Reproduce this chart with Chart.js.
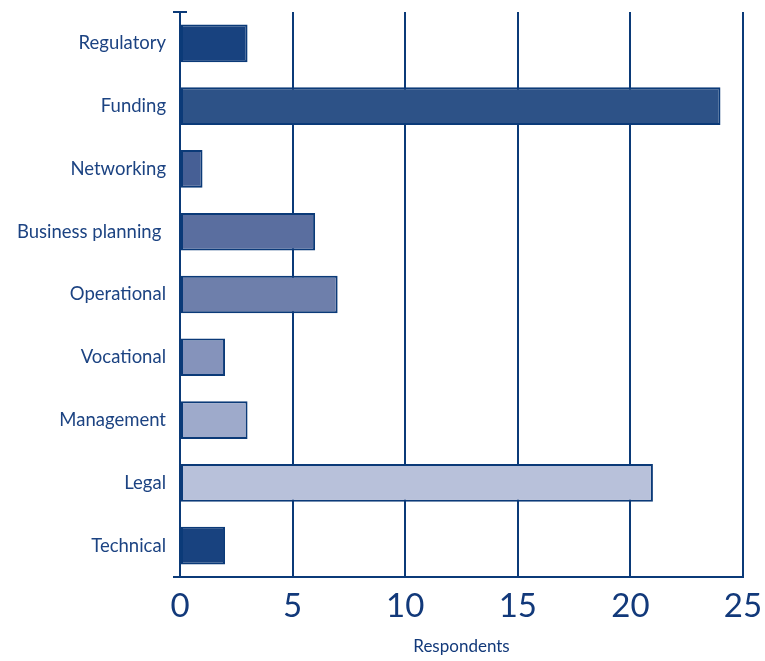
<!DOCTYPE html>
<html>
<head>
<meta charset="utf-8">
<script src="https://cdn.jsdelivr.net/npm/chart.js@4"></script>
<style>
  html, body { margin: 0; padding: 0; background: #fff; }
  #wrap { width: 765px; height: 661px; }
</style>
</head>
<body>
<div id="wrap"><canvas id="bars"></canvas></div>
<script>
const categories = ['Regulatory', 'Funding', 'Networking', 'Business planning ', 'Operational', 'Vocational', 'Management', 'Legal', 'Technical']
const respondents = [3, 24, 1, 6, 7, 2, 3, 21, 2]
const barColors = ['#18427f', '#2d5287', '#465f95', '#5a6e9f', '#6e7fab', '#8593bb', '#9eaacb', '#b8c1da', '#18427f']
const xTicks = [0, 5, 10, 15, 20, 25]

const navy = '#0b3a78'

// little cap on top of the y axis, and axis stub to the left
const axisCaps = {
    id: 'axisCaps',
    afterDraw(chart) {
        let c = chart.ctx
        let a = chart.chartArea
        c.save()
        c.strokeStyle = navy
        c.lineWidth = 2
        c.beginPath()
        c.moveTo(a.left - 7, a.top)
        c.lineTo(a.left + 7, a.top)
        c.moveTo(a.left - 7, a.bottom)
        c.lineTo(a.left, a.bottom)
        c.stroke()
        c.restore()
    }
}

const ctx = document.getElementById('bars').getContext('2d')
const chart = new Chart(ctx, {
    type: 'bar',
    data: {
        labels: categories,
        datasets: [{
            data: respondents,
            backgroundColor: barColors,
            borderColor: navy,
            borderWidth: 2,
            borderSkipped: false,
            barPercentage: 0.6,
            categoryPercentage: 1
        }]
    },
    options: {
        indexAxis: 'y',
        responsive: true,
        maintainAspectRatio: false,
        animation: false,
        layout: { padding: { top: 12, right: 22, left: 0, bottom: 0 } },
        plugins: {
            legend: { display: false },
            tooltip: { enabled: false }
        },
        scales: {
            x: {
                min: 0,
                max: 25,
                afterBuildTicks: s => { s.ticks = xTicks.map(v => ({ value: v })) },
                afterFit: s => {
                    s.height = 84
                    s.paddingLeft = 0
                    s.paddingRight = 0
                },
                grid: { color: navy, lineWidth: 2, drawTicks: false },
                border: { color: navy, width: 2 },
                ticks: {
                    color: '#12397a',
                    padding: 10,
                    font: { family: 'Lato', size: 33 }
                },
                title: {
                    display: true,
                    text: 'Respondents',
                    color: '#12397a',
                    padding: { top: 2, bottom: 4 },
                    font: { family: 'Lato', size: 17 }
                }
            },
            y: {
                afterFit: s => {
                    s.width = 180
                    s.paddingTop = 0
                    s.paddingBottom = 0
                },
                grid: { display: false, drawTicks: false },
                border: { color: navy, width: 2 },
                ticks: {
                    color: '#1c4382',
                    padding: 14,
                    font: { family: 'Lato', size: 18.5 }
                }
            }
        }
    },
    plugins: [axisCaps]
})
</script>
</body>
</html>
